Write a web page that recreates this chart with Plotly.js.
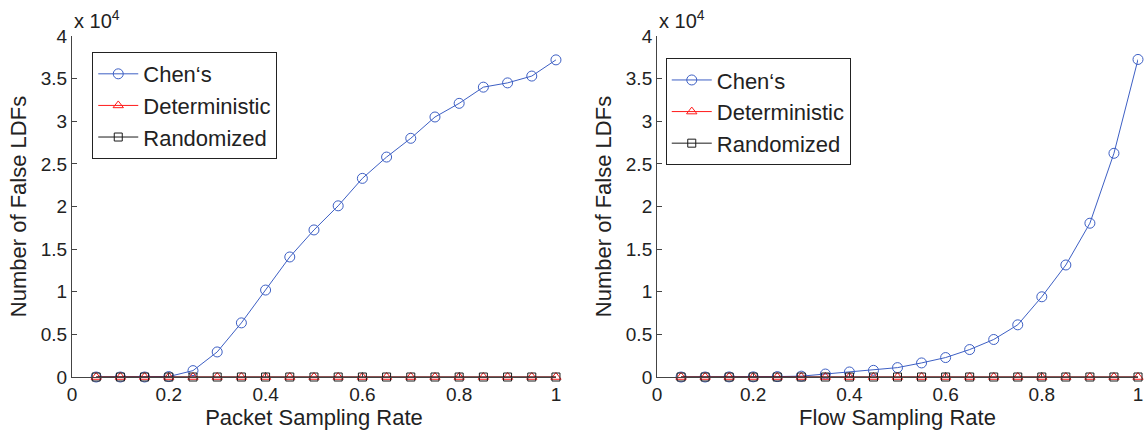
<!DOCTYPE html>
<html>
<head>
<meta charset="utf-8">
<script src="https://cdn.plot.ly/plotly-3.0.1.min.js"></script>
<style>html,body{margin:0;padding:0;background:#fff;}#chart{width:1146px;height:432px;}</style>
</head>
<body>
<div id="chart"></div>
<script>
// Sampling rates (shared x values)
const samplingRates = [0.05,0.10,0.15,0.20,0.25,0.30,0.35,0.40,0.45,0.50,0.55,0.60,0.65,0.70,0.75,0.80,0.85,0.90,0.95,1.00];

// Left panel: packet sampling
const packetChen = [0,0,0,50,750,2940,6350,10200,14080,17250,20080,23300,25800,28000,30500,32100,34000,34500,35300,37200];
const packetDeterministic = [0,0,0,0,0,0,0,0,0,0,0,0,0,0,0,0,0,0,0,0];
const packetRandomized = [0,0,0,0,0,0,0,0,0,0,0,0,0,0,0,0,0,0,0,0];

// Right panel: flow sampling
const flowChen = [0,0,10,20,50,100,350,590,780,1100,1650,2280,3220,4400,6120,9410,13140,18040,26240,37250];
const flowDeterministic = [0,0,0,0,0,0,0,0,0,0,0,0,0,0,0,0,0,0,0,0];
const flowRandomized = [0,0,0,0,0,0,0,0,0,0,0,0,0,0,0,0,0,0,0,0];

const seriesNames = ['Chen\u2018s', 'Deterministic', 'Randomized'];
const xTickVals = [0,0.2,0.4,0.6,0.8,1];
const xTickText = ['0','0.2','0.4','0.6','0.8','1'];
const yTickVals = [0,5000,10000,15000,20000,25000,30000,35000,40000];
const yTickText = ['0','0.5','1','1.5','2','2.5','3','3.5','4'];

const FONT = 'Arial, "Liberation Sans", Helvetica, sans-serif';
const BLUE = '#3d5fc4';
const RED = '#ff1a1a';
const BLACK = '#1a1a1a';

function mk(y, name, color, symbol, size, xa, ya, legend) {
  return {
    x: samplingRates, y: y, name: name, type: 'scatter', mode: 'lines+markers',
    xaxis: xa, yaxis: ya, legend: legend, cliponaxis: false,
    line: {color: color, width: 1},
    marker: {symbol: symbol, size: size, color: color, line: {color: color, width: 1}}
  };
}

const data = [
  mk(packetChen, seriesNames[0], BLUE, 'circle-open', 10, 'x', 'y', 'legend'),
  mk(packetDeterministic, seriesNames[1], RED, 'triangle-up-open', 9, 'x', 'y', 'legend'),
  mk(packetRandomized, seriesNames[2], BLACK, 'square-open', 8, 'x', 'y', 'legend'),
  mk(flowChen, seriesNames[0], BLUE, 'circle-open', 10, 'x2', 'y2', 'legend2'),
  mk(flowDeterministic, seriesNames[1], RED, 'triangle-up-open', 9, 'x2', 'y2', 'legend2'),
  mk(flowRandomized, seriesNames[2], BLACK, 'square-open', 8, 'x2', 'y2', 'legend2')
];

function xax(domain, title, anchor) {
  return {
    domain: domain, anchor: anchor, range: [0, 1],
    tickvals: xTickVals, ticktext: xTickText,
    showline: true, linecolor: '#444', linewidth: 1, mirror: false,
    ticks: 'inside', ticklen: 5, tickcolor: '#444',
    showgrid: false, zeroline: false,
    tickfont: {family: FONT, size: 19, color: '#222'},
    title: {text: title, font: {family: FONT, size: 22, color: '#222'}, standoff: 0}
  };
}
function yax(anchor) {
  return {
    anchor: anchor, domain: [0, 1], range: [0, 40000],
    tickvals: yTickVals, ticktext: yTickText,
    showline: true, linecolor: '#444', linewidth: 1, mirror: false,
    ticks: 'inside', ticklen: 5, tickcolor: '#444',
    showgrid: false, zeroline: false,
    tickfont: {family: FONT, size: 19, color: '#222'},
    title: {text: 'Number of False LDFs', font: {family: FONT, size: 22, color: '#222'}, standoff: 8}
  };
}

const legendStyle = {
  bgcolor: '#fff', bordercolor: '#222', borderwidth: 1,
  font: {family: FONT, size: 22, color: '#222'},
  xanchor: 'left', yanchor: 'top', tracegroupgap: 0, itemwidth: 40
};

const layout = {
  width: 1146, height: 432,
  margin: {l: 72, r: 8, t: 36, b: 55},
  paper_bgcolor: '#fff', plot_bgcolor: '#fff',
  showlegend: true,
  xaxis: xax([0, 0.454], 'Packet Sampling Rate', 'y'),
  yaxis: yax('x'),
  xaxis2: xax([0.5488, 1], 'Flow Sampling Rate', 'y2'),
  yaxis2: yax('x2'),
  legend: Object.assign({x: 0.019, y: 0.953}, legendStyle),
  legend2: Object.assign({x: 0.557, y: 0.935}, legendStyle),
  annotations: [
    {xref: 'paper', yref: 'paper', x: 0, y: 1, xanchor: 'left', yanchor: 'bottom', yshift: 2, showarrow: false,
     text: 'x 10<sup>4</sup>', font: {family: FONT, size: 20, color: '#222'}},
    {xref: 'paper', yref: 'paper', x: 0.5488, y: 1, xanchor: 'left', yanchor: 'bottom', yshift: 2, showarrow: false,
     text: 'x 10<sup>4</sup>', font: {family: FONT, size: 20, color: '#222'}}
  ]
};

Plotly.newPlot('chart', data, layout, {staticPlot: true, displayModeBar: false});
</script>
</body>
</html>
